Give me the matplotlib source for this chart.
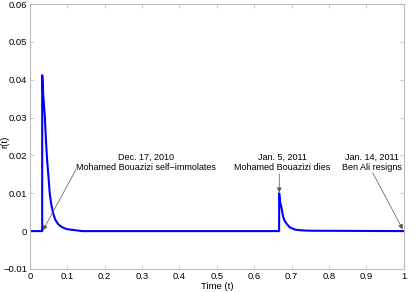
import numpy as np
import matplotlib
matplotlib.use('Agg')
import matplotlib.pyplot as plt

# r(t): two sharp rises with quick decay, zero elsewhere
t = [0.0, 0.0329, 0.0330, 0.036, 0.040, 0.043, 0.046, 0.050, 0.053, 0.057, 0.062,
     0.068, 0.076, 0.082, 0.089, 0.100, 0.116, 0.14,
     0.6666, 0.6667, 0.668, 0.670, 0.673, 0.677, 0.681, 0.686, 0.695, 0.709,
     0.725, 0.749, 1.0]
r = [0.0, 0.0, 0.0412, 0.0355, 0.0303, 0.0240, 0.0189, 0.0140, 0.0101, 0.0072, 0.0048,
     0.0030, 0.0018, 0.0013, 0.0009, 0.0005, 0.0003, 0.0,
     0.0, 0.0100, 0.0087, 0.0074, 0.0061, 0.0039, 0.0028, 0.0020, 0.0010, 0.0004,
     0.0002, 0.0001, 0.0]

# event labels: text, text position, arrow tail, arrow head
labels = ['Dec. 17, 2010\nMohamed Bouazizi self\u2212immolates',
          'Jan. 5, 2011\nMohamed Bouazizi dies',
          'Jan. 14, 2011\nBen Ali resigns']
text_pos = [(0.31, 0.0181), (0.675, 0.0181), (0.915, 0.0181)]
arrow_tail = [(0.123, 0.0162), (0.667, 0.0152), (0.917, 0.0154)]
arrow_head = [(0.035, 0.0002), (0.667, 0.0102), (0.997, 0.0005)]

xticks = np.arange(0, 1.01, 0.1)
xticklabels = ['0', '0.1', '0.2', '0.3', '0.4', '0.5', '0.6', '0.7', '0.8', '0.9', '1']
yticks = [-0.01, 0, 0.01, 0.02, 0.03, 0.04, 0.05, 0.06]
yticklabels = ['\u22120.01', '0', '0.01', '0.02', '0.03', '0.04', '0.05', '0.06']

plt.rcParams['font.family'] = ['Liberation Sans', 'DejaVu Sans']
plt.rcParams['font.size'] = 6.8

fig = plt.figure(figsize=(4.15, 2.92), dpi=100)
ax = fig.add_axes([0.072, 0.079, 0.901, 0.907])

ax.plot(t, r, color='#0000ff', linewidth=1.5)

for lab, pos, tail, head in zip(labels, text_pos, arrow_tail, arrow_head):
    ax.text(pos[0], pos[1], lab, ha='center', va='center', multialignment='center',
            linespacing=1.2, fontsize=6.5)
    ax.annotate('', xy=head, xytext=tail,
                arrowprops=dict(arrowstyle='-|>', color='#555555', lw=0.5,
                                mutation_scale=7, shrinkA=0, shrinkB=0))

ax.set_xlim(0, 1)
ax.set_ylim(-0.01, 0.06)
ax.set_xticks(xticks)
ax.set_xticklabels(xticklabels)
ax.set_yticks(yticks)
ax.set_yticklabels(yticklabels)
ax.tick_params(direction='in', top=True, right=True, length=3, width=0.5,
               color='#bbbbbb', pad=2)
for s in ax.spines.values():
    s.set_color('#bbbbbb')
    s.set_linewidth(0.8)

ax.set_xlabel('Time (t)', labelpad=1)
ax.set_ylabel('r(t)')
ax.yaxis.set_label_coords(-0.056, 0.48)

fig.savefig('out.png', dpi=100)
